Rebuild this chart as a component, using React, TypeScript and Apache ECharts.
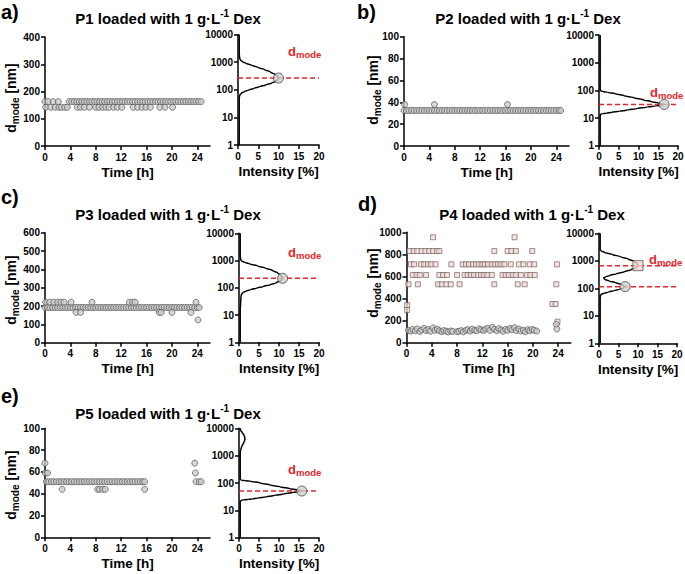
import React, { useEffect, useRef } from 'react';
import * as echarts from 'echarts';

// ---------------- data ----------------
const timeTicks = [0, 4, 8, 12, 16, 20, 24];
const titles = ['P1', 'P2', 'P3', 'P4', 'P5'];
const letters = ['a)', 'b)', 'c)', 'd)', 'e)'];
const leftMax = [400, 100, 600, 1000, 100];
const leftInterval = [100, 20, 100, 200, 20];

// Panel a (P1)
const a163T = [0, 0.5, 1.3, 2.1, 3.8, 4.2, 4.6, 5.0, 5.4, 5.8, 6.2, 6.6, 7.0, 7.4, 7.8, 8.2, 8.6, 9.0, 9.4, 9.8, 10.2, 10.6, 11.0, 11.4, 11.8, 12.2, 12.6, 13.0, 13.4, 13.8, 14.2, 14.6, 15.0, 15.4, 15.8, 16.2, 16.6, 17.0, 17.4, 17.8, 18.2, 18.6, 19.0, 19.4, 19.8, 20.2, 20.6, 21.0, 21.4, 21.8, 22.2, 22.6, 23.0, 23.4, 23.8, 24.2, 24.6];
const a142T = [0.1, 0.9, 1.6, 2.2, 2.6, 3.1, 3.5, 5.1, 5.6, 6.2, 7.0, 8.0, 8.5, 9.1, 9.6, 10.1, 10.8, 11.4, 12.1, 13.9, 14.6, 15.3, 15.9, 16.6, 18.1, 18.9, 20.1];
const aCurveD = [10000, 2000, 1400, 1200, 1050, 900, 780, 650, 540, 440, 360, 300, 265, 230, 200, 175, 150, 130, 112, 98, 86, 76, 66, 57, 45, 1];
const aCurveI = [0.3, 0.3, 0.4, 0.6, 1.0, 2.0, 3.3, 4.9, 6.5, 8.0, 9.1, 9.8, 10.0, 9.8, 9.2, 8.3, 6.9, 5.4, 3.9, 2.6, 1.6, 0.9, 0.5, 0.35, 0.3, 0.3];
const aMode = [10, 265];

// Panel b (P2)
const b32T = [0, 0.4, 0.8, 1.2, 1.6, 2, 2.4, 2.8, 3.2, 3.6, 4, 4.4, 4.8, 5.2, 5.6, 6, 6.4, 6.8, 7.2, 7.6, 8, 8.4, 8.8, 9.2, 9.6, 10, 10.4, 10.8, 11.2, 11.6, 12, 12.4, 12.8, 13.2, 13.6, 14, 14.4, 14.8, 15.2, 15.6, 16, 16.4, 16.8, 17.2, 17.6, 18, 18.4, 18.8, 19.2, 19.6, 20, 20.4, 20.8, 21.2, 21.6, 22, 22.4, 22.8, 23.2, 23.6, 24, 24.4, 24.7];
const b38T = [0.1, 4.8, 16.3];
const bCurveD = [10000, 110, 96, 90, 85, 75, 64, 54, 45, 39, 35, 32.5, 31, 29.5, 27.5, 25, 22, 19.5, 17.5, 16, 15, 14.3, 13.5, 12, 1];
const bCurveI = [0.3, 0.3, 0.45, 1.0, 2.2, 4.2, 6.4, 8.8, 11.3, 13.3, 14.9, 16.0, 16.5, 16.0, 14.5, 12.2, 9.6, 7.2, 5.1, 3.2, 1.8, 0.8, 0.4, 0.3, 0.3];
const bMode = [16.5, 31];

// Panel c (P3)
const c221T = [0.1, 0.75, 1.4, 2.0, 2.5, 3.0, 4.1, 7.4, 13.3, 13.8, 14.2, 23.8];
const c192T = [0, 0.4, 0.8, 1.2, 1.6, 2, 2.4, 2.8, 3.2, 3.6, 4, 4.4, 4.8, 5.2, 5.6, 6, 6.4, 6.8, 7.2, 7.6, 8, 8.4, 8.8, 9.2, 9.6, 10, 10.4, 10.8, 11.2, 11.6, 12, 12.4, 12.8, 13.2, 13.6, 14, 14.4, 14.8, 15.2, 15.6, 16, 16.4, 16.8, 17.2, 17.6, 18, 18.4, 18.8, 19.2, 19.6, 20, 20.4, 20.8, 21.2, 21.6, 22, 22.4, 22.8, 23.2, 23.6, 24, 24.3];
const c165T = [4.9, 5.6, 18.0, 18.3, 20.0, 23.0];
const c124T = [24.1];
const cCurveD = [10000, 1500, 1100, 950, 850, 750, 640, 530, 430, 350, 285, 223, 185, 155, 130, 112, 98, 86, 76, 67, 58, 48, 35, 25, 15, 1];
const cCurveI = [0.3, 0.3, 0.4, 0.7, 1.5, 2.8, 4.6, 6.6, 8.4, 9.7, 10.5, 10.9, 10.5, 9.4, 7.8, 6.1, 4.5, 3.0, 1.8, 1.0, 0.65, 0.5, 0.45, 0.38, 0.3, 0.3];
const cMode = [10.9, 223];

// Panel d (P4) - squares (large population)
const d955T = [4.2, 17.1];
const d830T = [0.5, 1.15, 1.7, 2.4, 3.0, 3.6, 4.2, 4.8, 5.2, 13.9, 16.0, 16.6, 17.3, 19.9];
const d710T = [0.7, 1.2, 2.3, 2.8, 3.4, 3.9, 4.6, 7.1, 8.9, 9.4, 9.9, 10.5, 11.0, 11.5, 12.0, 12.4, 12.9, 13.5, 14.0, 14.5, 15.0, 15.5, 16.5, 17.8, 18.5, 19.5, 20.2, 23.8];
const d613T = [1.0, 1.6, 2.1, 3.1, 5.2, 5.8, 6.4, 8.0, 9.2, 9.7, 10.2, 10.7, 11.3, 11.8, 12.3, 12.8, 13.5, 15.2, 15.7, 16.2, 16.8, 17.3, 18.1, 19.1, 19.6, 20.3];
const d529T = [0.3, 1.8, 5.0, 5.6, 6.3, 7.0, 8.4, 13.9, 17.6, 18.7, 23.7];
const dSqOther: number[][] = [[0.1, 340], [0.1, 296], [23.1, 350], [23.6, 350], [23.9, 190]];
// Panel d - circles (small population)
const dCircT = [0.3, 0.7, 1.0, 1.4, 1.7, 2.1, 2.4, 2.8, 3.1, 3.5, 3.8, 4.2, 4.5, 4.9, 5.2, 5.6, 5.9, 6.3, 6.6, 7.0, 7.3, 8.0, 8.3, 8.7, 9.0, 9.4, 9.7, 10.1, 10.4, 10.8, 11.1, 11.5, 11.8, 12.2, 12.5, 12.9, 13.2, 13.6, 13.9, 14.3, 14.6, 15.0, 15.3, 15.7, 16.0, 16.4, 16.7, 17.1, 17.4, 17.8, 18.1, 18.5, 18.8, 19.2, 19.5, 19.9, 20.2, 20.6, 23.7, 23.8];
const dCircV = [112, 105, 120, 108, 125, 102, 115, 130, 110, 118, 104, 135, 112, 122, 108, 100, 110, 104, 98, 106, 102, 100, 104, 110, 98, 112, 118, 106, 122, 114, 108, 126, 116, 110, 124, 132, 112, 140, 120, 108, 128, 116, 104, 122, 112, 130, 118, 136, 110, 124, 106, 114, 100, 118, 108, 120, 112, 106, 166, 124];
const dCurveD = [10000, 2600, 2300, 2000, 1700, 1400, 1150, 950, 800, 665, 560, 470, 400, 340, 295, 260, 235, 210, 185, 160, 140, 125, 115, 103, 92, 82, 73, 66, 60, 55, 45, 1];
const dCurveI = [0.3, 0.3, 0.5, 1.5, 3.4, 5.6, 7.6, 9.0, 9.8, 10.0, 9.5, 8.2, 6.5, 4.5, 2.8, 1.6, 1.2, 1.5, 2.6, 4.2, 5.6, 6.4, 6.7, 6.3, 5.2, 3.8, 2.4, 1.3, 0.6, 0.35, 0.3, 0.3];
const dModeSq = [10, 665];
const dModeCirc = [6.7, 115];

// Panel e (P5)
const e68T = [0, 23.6];
const e59T = [0.05, 0.4, 23.7];
const e51T = [0.2, 0.6, 1, 1.4, 1.8, 2.2, 2.6, 3, 3.4, 3.8, 4.2, 4.6, 5, 5.4, 5.8, 6.2, 6.6, 7, 7.4, 7.8, 8.2, 8.6, 9, 9.4, 9.8, 10.2, 10.6, 11, 11.4, 11.8, 12.2, 12.6, 13, 13.4, 13.8, 14.2, 14.6, 15, 15.4, 15.7, 23.8, 24.3, 24.6];
const e44T = [2.7, 8.3, 8.6, 9.1, 9.5, 15.7];
const eCurveD = [10000, 8500, 7000, 5800, 4600, 3700, 3000, 2400, 1900, 1500, 1200, 300, 135, 126, 121, 116, 100, 85, 72, 62, 56, 53, 51, 48.5, 45, 40, 35, 31, 28, 26, 25, 24, 23, 21, 1];
const eCurveI = [0.3, 0.4, 0.8, 1.2, 1.45, 1.45, 1.2, 0.85, 0.55, 0.35, 0.3, 0.3, 0.32, 0.7, 1.6, 2.9, 5.3, 7.8, 10.4, 12.7, 14.5, 15.3, 15.7, 15.2, 13.4, 11.2, 8.8, 6.6, 4.7, 3.3, 2.2, 1.0, 0.5, 0.3, 0.3];
const eMode = [15.7, 51];

// ---------------- layout (pixels) ----------------
const layout = [
  { L: [45, 37, 165, 109], R: [238, 34.5, 81, 110.5], title: [168, 17], letter: [1, 12], yName: [12, 98], dLabel: [288, 52] },
  { L: [404, 36.7, 165, 109.3], R: [599, 35, 79, 110.7], title: [528, 17], letter: [357, 12], yName: [374, 90], dLabel: [650, 93] },
  { L: [45, 232.7, 165, 110], R: [239, 233.3, 80, 109], title: [168, 213], letter: [1, 197], yName: [12, 290], dLabel: [288, 253] },
  { L: [406.5, 232.3, 164.3, 110.4], R: [599, 233.3, 78, 110], title: [532, 213], letter: [358, 204], yName: [374, 283], dLabel: [649, 260] },
  { L: [45, 428.3, 165, 109], R: [239, 428.3, 80, 109.4], title: [168, 412], letter: [1, 396], yName: [12, 485], dLabel: [288, 470] },
];

const FONT = "'Liberation Sans', Arial, Helvetica, sans-serif";
const RED = '#e3262c';

const pts = (times: number[], v: number) => times.map((t) => [t, v]);
const curve = (I: number[], D: number[]) => I.map((x, k) => [x, D[k]]);

const circleStyle = { color: '#cbcbcb', borderColor: '#474747', borderWidth: 0.8 };
const squareStyle = { color: '#f2dcd8', borderColor: '#6b5656', borderWidth: 0.8 };

function buildOption() {
  const grid: any[] = [];
  const xAxis: any[] = [];
  const yAxis: any[] = [];
  const series: any[] = [];
  const graphic: any[] = [];

  const axisLine = { show: true, onZero: false, lineStyle: { color: '#000', width: 1.5 } };
  const tickStyle = { color: '#000', width: 1.5 };
  const labelStyle = { color: '#000', fontSize: 10, fontWeight: 'bold', fontFamily: FONT, margin: 5 };
  const nameStyle = { color: '#000', fontSize: 13.5, fontWeight: 'bold', fontFamily: FONT };

  const leftData: any[][] = [
    [{ d: pts(a163T, 163).concat(pts(a142T, 142)), sq: false }],
    [{ d: pts(b32T, 32.5).concat(pts(b38T, 38)), sq: false }],
    [{ d: pts(c192T, 192).concat(pts(c221T, 221), pts(c165T, 165), pts(c124T, 124)), sq: false }],
    [
      { d: pts(d955T, 955).concat(pts(d830T, 830), pts(d710T, 710), pts(d613T, 613), pts(d529T, 529), dSqOther), sq: true },
      { d: dCircT.map((t, k) => [t, dCircV[k]]), sq: false },
    ],
    [{ d: pts(e51T, 51).concat(pts(e68T, 68), pts(e59T, 59), pts(e44T, 44)), sq: false }],
  ];
  const curves = [
    curve(aCurveI, aCurveD),
    curve(bCurveI, bCurveD),
    curve(cCurveI, cCurveD),
    curve(dCurveI, dCurveD),
    curve(eCurveI, eCurveD),
  ];
  const modes: { p: number[]; sq: boolean }[][] = [
    [{ p: aMode, sq: false }],
    [{ p: bMode, sq: false }],
    [{ p: cMode, sq: false }],
    [{ p: dModeSq, sq: true }, { p: dModeCirc, sq: false }],
    [{ p: eMode, sq: false }],
  ];

  layout.forEach((lay, i) => {
    const li = 2 * i;
    const ri = 2 * i + 1;
    grid.push({ left: lay.L[0], top: lay.L[1], width: lay.L[2], height: lay.L[3], containLabel: false, outerBoundsMode: 'none' });
    grid.push({ left: lay.R[0], top: lay.R[1], width: lay.R[2], height: lay.R[3], containLabel: false, outerBoundsMode: 'none' });

    xAxis.push({
      gridIndex: li, type: 'value', min: 0, max: 26,
      axisLine,
      axisTick: { show: true, length: 4, lineStyle: tickStyle, customValues: timeTicks },
      axisLabel: { ...labelStyle, margin: 6, customValues: timeTicks, formatter: (v: number) => (v % 4 === 0 && v <= 24 ? String(v) : '') },
      splitLine: { show: false },
      name: 'Time [h]', nameLocation: 'middle', nameGap: 19, nameTextStyle: nameStyle,
    });
    xAxis.push({
      gridIndex: ri, type: 'value', min: 0, max: 20, interval: 5,
      axisLine,
      axisTick: { show: true, length: 4, lineStyle: tickStyle },
      axisLabel: { ...labelStyle, margin: 6 },
      splitLine: { show: false },
      name: 'Intensity [%]', nameLocation: 'middle', nameGap: 19, nameTextStyle: nameStyle,
    });
    yAxis.push({
      gridIndex: li, type: 'value', min: 0, max: leftMax[i], interval: leftInterval[i],
      axisLine,
      axisTick: { show: true, length: 4, lineStyle: tickStyle },
      axisLabel: { ...labelStyle, formatter: (v: number) => String(v) },
      splitLine: { show: false },
    });
    yAxis.push({
      gridIndex: ri, type: 'log', logBase: 10, min: 1, max: 10000,
      axisLine,
      axisTick: { show: true, length: 4, lineStyle: tickStyle },
      minorTick: { show: false },
      axisLabel: { ...labelStyle, formatter: (v: number) => String(Math.round(v)) },
      splitLine: { show: false },
    });

    leftData[i].forEach((s) => {
      series.push({
        type: 'scatter', xAxisIndex: li, yAxisIndex: li, data: s.d,
        symbol: s.sq ? 'rect' : 'circle', symbolSize: s.sq ? 5 : 6,
        itemStyle: s.sq ? squareStyle : circleStyle, silent: true, z: s.sq ? 2 : 3,
      });
    });

    series.push({
      type: 'line', xAxisIndex: ri, yAxisIndex: ri, data: curves[i], symbol: 'none',
      smooth: 0.35, smoothMonotone: 'y', lineStyle: { color: '#000', width: 1.5 }, silent: true, z: 2,
    });
    modes[i].forEach((m) => {
      series.push({
        type: 'line', xAxisIndex: ri, yAxisIndex: ri, data: [[0, m.p[1]], [i === 3 ? 20.6 : 20, m.p[1]]],
        symbol: 'none', clip: false, lineStyle: { color: RED, width: 1.5, type: [5, 3] }, silent: true, z: 3,
      });
      series.push({
        type: 'scatter', xAxisIndex: ri, yAxisIndex: ri, data: [m.p],
        symbol: m.sq ? 'rect' : 'circle', symbolSize: 10,
        itemStyle: m.sq ? { color: '#f5d6d0', borderColor: '#555', borderWidth: 1 } : { color: '#d0d0d0', borderColor: '#444', borderWidth: 1 },
        silent: true, z: 4,
      });
    });

    // texts
    graphic.push({
      type: 'text', x: lay.letter[0], y: lay.letter[1],
      style: { text: letters[i], fill: '#000', font: `bold 20px ${FONT}`, align: 'left', verticalAlign: 'middle' },
    });
    graphic.push({
      type: 'text', x: lay.title[0], y: lay.title[1],
      style: {
        text: `{t|${titles[i]} loaded with 1 g·L}{s|-1}{t| Dex}`,
        align: 'center', verticalAlign: 'middle',
        rich: {
          t: { fontSize: 15, fontWeight: 'bold', fontFamily: FONT, fill: '#000', lineHeight: 18, verticalAlign: 'bottom' },
          s: { fontSize: 10, fontWeight: 'bold', fontFamily: FONT, fill: '#000', lineHeight: 11, verticalAlign: 'top' },
        },
      },
    });
    graphic.push({
      type: 'text', x: lay.yName[0], y: lay.yName[1], rotation: Math.PI / 2,
      style: {
        text: '{d|d}{s|mode}{d| [nm]}',
        align: 'center', verticalAlign: 'middle',
        rich: {
          d: { fontSize: 14, fontWeight: 'bold', fontFamily: FONT, fill: '#000', lineHeight: 17, verticalAlign: 'top' },
          s: { fontSize: 10, fontWeight: 'bold', fontFamily: FONT, fill: '#000', lineHeight: 10, verticalAlign: 'bottom' },
        },
      },
    });
    graphic.push({
      type: 'text', x: lay.dLabel[0], y: lay.dLabel[1],
      style: {
        text: '{d|d}{s|mode}',
        align: 'left', verticalAlign: 'middle',
        rich: {
          d: { fontSize: 13, fontWeight: 'bold', fontFamily: FONT, fill: RED, lineHeight: 15, verticalAlign: 'top' },
          s: { fontSize: 9.5, fontWeight: 'bold', fontFamily: FONT, fill: RED, lineHeight: 9, verticalAlign: 'bottom' },
        },
      },
    });
  });

  return {
    animation: false,
    backgroundColor: '#fff',
    grid, xAxis, yAxis, series, graphic,
  };
}

export default function App() {
  const ref = useRef<HTMLDivElement>(null);
  useEffect(() => {
    document.body.style.margin = '0';
    const chart = echarts.init(ref.current as HTMLDivElement, null, { renderer: 'svg' });
    chart.setOption(buildOption() as any);
    return () => chart.dispose();
  }, []);
  return <div ref={ref} style={{ width: 685, height: 574 }} />;
}
